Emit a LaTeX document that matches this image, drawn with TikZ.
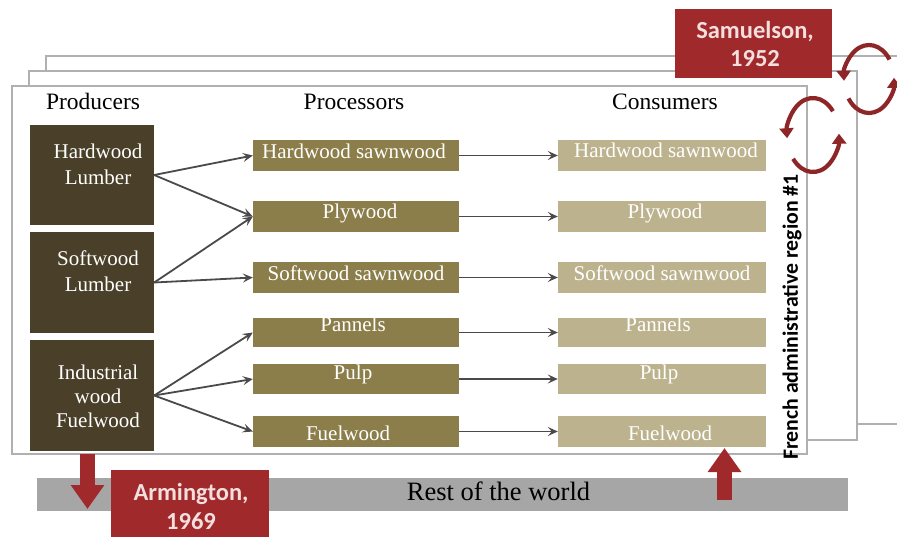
\documentclass[tikz,border=0pt]{standalone}
\usepackage{fontspec}
\setmainfont{Liberation Serif}
\newfontfamily\calib{Carlito}
\usetikzlibrary{arrows.meta}
\definecolor{prodc}{HTML}{4A4029}
\definecolor{procc}{HTML}{8C7E4A}
\definecolor{consc}{HTML}{BCB38E}
\definecolor{redc}{HTML}{A0292B}
\definecolor{redd}{HTML}{8E2628}
\definecolor{redt}{HTML}{F4DEDE}
\definecolor{framec}{HTML}{B0B0B0}
\definecolor{worldc}{HTML}{A6A6A6}
\definecolor{arrc}{HTML}{4A4A4A}
\tikzset{
  panel/.style={draw=framec, line width=1.8pt, fill=white},
  prodbox/.style={fill=prodc, draw=none, inner sep=0, minimum width=124pt},
  procbox/.style={fill=procc, draw=none, inner sep=0, minimum width=206pt, minimum height=31pt},
  consbox/.style={fill=consc, draw=none, inner sep=0, minimum width=208pt, minimum height=31pt},
  lab/.style={text=white, font=\fontsize{21}{25}\selectfont, anchor=base, inner sep=0},
  head/.style={text=black, font=\fontsize{23.5}{28}\selectfont, anchor=base, inner sep=0},
  conn/.style={draw=arrc, line width=1.8pt, -{Stealth[length=10pt,width=9pt,inset=4pt]}},
  redbox/.style={fill=redc, draw=none, inner sep=0},
  redlab/.style={text=redt, font=\calib\bfseries\fontsize{24.5}{28}\selectfont, anchor=base, inner sep=0},
  bigarrow/.style={draw=redc, line width=15pt, -{Triangle[length=24pt,width=32pt]}},
  circarr/.style={draw=redd, line width=4.2pt, -{Triangle[length=10pt,width=14pt]}},
}
\begin{document}
\begin{tikzpicture}[x=1pt,y=1pt]
\useasboundingbox (0,0) rectangle (897,-536);
% panels
\draw[panel] (46,-56) rectangle (910,-424);
\draw[panel] (29,-71) rectangle (857,-440);
\draw[panel] (12,-86) rectangle (807,-454);
% headers
\node[head] (hprod) at (93,-109) {Producers};
\node[head] (hproc) at (354,-109) {Processors};
\node[head] (hcons) at (665,-109) {Consumers};
% producers
\node[prodbox, minimum height=100pt] (pr1) at (92,-175) {};
\node[prodbox, minimum height=101pt] (pr2) at (92,-282.5) {};
\node[prodbox, minimum height=111pt] (pr3) at (92,-395.5) {};
\node[lab] (pr1a) at (98,-158) {Hardwood};
\node[lab] (pr1b) at (98,-184) {Lumber};
\node[lab] (pr2a) at (98,-265) {Softwood};
\node[lab] (pr2b) at (98,-291) {Lumber};
\node[lab] (pr3a) at (98,-379) {Industrial};
\node[lab] (pr3b) at (98,-403) {wood};
\node[lab] (pr3c) at (98,-427) {Fuelwood};
% processors
\node[procbox] (pc1) at (356,-155.5) {};
\node[procbox] (pc2) at (356,-216.5) {};
\node[procbox] (pc3) at (356,-277.5) {};
\node[procbox, minimum height=29pt] (pc4) at (356,-332.5) {};
\node[procbox, minimum height=30pt] (pc5) at (356,-379) {};
\node[procbox] (pc6) at (356,-431.5) {};
\node[lab] (pc1t) at (354,-158) {Hardwood sawnwood};
\node[lab] (pc2t) at (360,-218) {Plywood};
\node[lab] (pc3t) at (356,-280) {Softwood sawnwood};
\node[lab] (pc4t) at (353,-331) {Pannels};
\node[lab] (pc5t) at (353,-379) {Pulp};
\node[lab] (pc6t) at (348,-440) {Fuelwood};
% consumers
\node[consbox] (cs1) at (662,-155.5) {};
\node[consbox] (cs2) at (662,-216.5) {};
\node[consbox] (cs3) at (662,-277.5) {};
\node[consbox, minimum height=29pt] (cs4) at (662,-332.5) {};
\node[consbox, minimum height=30pt] (cs5) at (662,-379) {};
\node[consbox] (cs6) at (662,-431.5) {};
\node[lab] (cs1t) at (666,-157) {Hardwood sawnwood};
\node[lab] (cs2t) at (665,-218) {Plywood};
\node[lab] (cs3t) at (662,-280) {Softwood sawnwood};
\node[lab] (cs4t) at (658,-331) {Pannels};
\node[lab] (cs5t) at (659,-379) {Pulp};
\node[lab] (cs6t) at (670,-440) {Fuelwood};
% connectors producers -> processors
\draw[conn] (pr1.east) -- (pc1.west);
\draw[conn] (pr1.east) -- (pc2.west);
\draw[conn] (pr2.east) -- (pc2.west);
\draw[conn] (pr2.east) -- (pc3.west);
\draw[conn] (pr3.east) -- (pc4.west);
\draw[conn] (pr3.east) -- (pc5.west);
\draw[conn] (pr3.east) -- (pc6.west);
% processors -> consumers
\draw[conn] (pc1.east) -- (cs1.west);
\draw[conn] (pc2.east) -- (cs2.west);
\draw[conn] (pc3.east) -- (cs3.west);
\draw[conn] (pc4.east) -- (cs4.west);
\draw[conn] (pc5.east) -- (cs5.west);
\draw[conn] (pc6.east) -- (cs6.west);
% vertical region label
\node[rotate=90, font=\calib\bfseries\fontsize{21.8}{26}\selectfont, inner sep=0] (region) at (792,-317) {French administrative region \#1};
% rest of the world
\node[fill=worldc, inner sep=0, minimum width=811pt, minimum height=33pt] (world) at (442.5,-494.5) {};
\node[head, font=\fontsize{26.5}{30}\selectfont] (worldt) at (498.5,-500) {Rest of the world};
% red arrows
\coordinate (dA) at (87.5,-454);
\coordinate (dB) at (87.5,-509);
\coordinate (uA) at (724.5,-500);
\coordinate (uB) at (724.5,-448);
\draw[bigarrow] (dA) -- (dB);
\draw[bigarrow] (uA) -- (uB);
% Armington
\node[redbox, minimum width=158pt, minimum height=70pt] (arm) at (190,-505) {};
\node[redlab] (arma) at (191,-500) {Armington,};
\node[redlab] (armb) at (191,-529) {1969};
% Samuelson
\node[redbox, minimum width=157pt, minimum height=69pt] (sam) at (753.5,-43.5) {};
\node[redlab] (sama) at (755,-38) {Samuelson,};
\node[redlab] (samb) at (755,-66) {1952};
% circular arrows (elliptical)
\coordinate (c1) at (869,-79);
\coordinate (c2) at (813,-135);
\draw[circarr] (c1) ++(35:25 and 34) arc[start angle=35, end angle=183, x radius=25, y radius=34];
\draw[circarr] (c1) ++(215:25 and 34) arc[start angle=215, end angle=362, x radius=25, y radius=34];
\draw[circarr] (c2) ++(40:26 and 37) arc[start angle=40, end angle=185, x radius=26, y radius=37];
\draw[circarr] (c2) ++(220:26 and 37) arc[start angle=220, end angle=362, x radius=26, y radius=37];
\end{tikzpicture}
\end{document}
